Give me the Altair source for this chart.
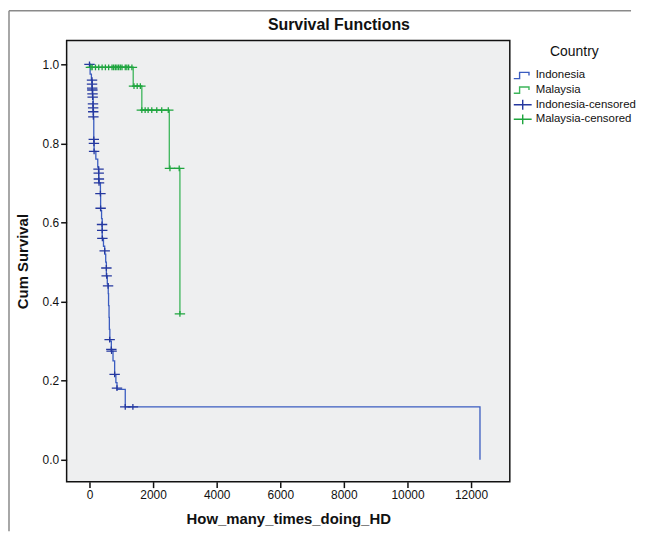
import altair as alt
import pandas as pd

title_text = "Survival Functions"
x_title = "How_many_times_doing_HD"
y_title = "Cum Survival"
legend_title = "Country"
series_names = ["Indonesia", "Malaysia", "Indonesia-censored", "Malaysia-censored"]
series_colors = ["#3a5cc0", "#3cb55a", "#25389f", "#1fa53f"]

x_ticks = [0, 2000, 4000, 6000, 8000, 10000, 12000]
y_ticks = [0.0, 0.2, 0.4, 0.6, 0.8, 1.0]

# Indonesia survival step curve (time, cumulative survival)
indo_t = [0, 20, 60, 85, 100, 115, 125, 135, 145, 200, 260, 290, 344, 350, 380, 400, 440,
          478, 510, 531, 560, 590, 600, 615, 625, 640, 687, 740, 791, 830, 865, 1125, 12281]
indo_s = [1.0, 0.975, 0.96, 0.935, 0.915, 0.885, 0.865, 0.81, 0.78, 0.76, 0.74, 0.70, 0.67,
          0.63, 0.61, 0.56, 0.54, 0.52, 0.50, 0.465, 0.445, 0.42, 0.39, 0.36, 0.33, 0.30,
          0.275, 0.25, 0.215, 0.195, 0.178, 0.134, 0.0]
# Indonesia censored observations
indo_ct = [0, 80, 80, 85, 90, 95, 100, 110, 115, 118, 122, 135, 140, 145, 285, 290, 295, 300,
           344, 350, 395, 400, 405, 478, 531, 540, 584, 634, 687, 695, 791, 865, 1125, 1365]
indo_cs = [1.0, 0.96, 0.95, 0.94, 0.935, 0.925, 0.917, 0.90, 0.89, 0.88, 0.867, 0.81, 0.80,
           0.78, 0.735, 0.725, 0.71, 0.70, 0.673, 0.636, 0.595, 0.58, 0.56, 0.528, 0.485,
           0.465, 0.44, 0.304, 0.279, 0.275, 0.216, 0.181, 0.134, 0.134]

# Malaysia survival step curve
mal_t = [0, 30, 1375, 1646, 2510, 2844]
mal_s = [1.0, 0.992, 0.945, 0.884, 0.737, 0.369]
# Malaysia censored observations
mal_ct = [45, 84, 188, 291, 397, 500, 603, 709, 759, 813, 863, 916, 969, 1022, 1125, 1175,
          1231, 1334, 1400, 1500, 1600, 1646, 1750, 1844, 1959, 2116, 2272, 2478, 2531,
          2822, 2844]
mal_cs = [0.992, 0.992, 0.992, 0.992, 0.992, 0.992, 0.992, 0.992, 0.992, 0.992, 0.992,
          0.992, 0.992, 0.992, 0.992, 0.992, 0.992, 0.992, 0.945, 0.945, 0.945, 0.884,
          0.884, 0.884, 0.884, 0.884, 0.884, 0.884, 0.737, 0.737, 0.369]

lines_df = pd.concat([
    pd.DataFrame({"t": indo_t, "S": indo_s, "series": "Indonesia"}),
    pd.DataFrame({"t": mal_t, "S": mal_s, "series": "Malaysia"}),
])
cens_df = pd.concat([
    pd.DataFrame({"t": indo_ct, "S": indo_cs, "series": "Indonesia-censored"}),
    pd.DataFrame({"t": mal_ct, "S": mal_cs, "series": "Malaysia-censored"}),
])

FONT = "Liberation Sans"
# open step glyph, retraced so that it encloses no area
step_path = "M-1,0.35H-0.35V-0.35H0.7V0V-0.35H-0.35V0.35Z"
plus_path = "M-1,0H1M0,-0.55V0.55"

x_scale = alt.Scale(domain=[-719, 13219], nice=False, zero=False)
y_scale = alt.Scale(domain=[-0.0553, 1.0603], nice=False, zero=False)
color_scale = alt.Scale(domain=series_names, range=series_colors)
shape_scale = alt.Scale(domain=series_names, range=[step_path, step_path, plus_path, plus_path])

legend = alt.Legend(
    title=legend_title, orient="none", legendX=449, legendY=5,
    titleAnchor="middle", titleAlign="center", titleFontSize=14, titleFontWeight="normal",
    titleFont=FONT, titleColor="#111", titlePadding=10,
    labelFont=FONT, labelFontSize=11.5, labelColor="#111", labelOffset=3,
    symbolSize=324, symbolStrokeWidth=1.4, symbolFillColor="transparent",
    clipHeight=12.5, rowPadding=1.7,
)

x_enc = alt.X("t:Q", scale=x_scale, title=x_title,
              axis=alt.Axis(values=x_ticks, format="d", grid=False, domain=False))
y_enc = alt.Y("S:Q", scale=y_scale, title=y_title,
              axis=alt.Axis(values=y_ticks, format=".1f", grid=False, domain=False))

lines = alt.Chart(lines_df).mark_line(interpolate="step-after", strokeWidth=1.3).encode(
    x=x_enc, y=y_enc,
    color=alt.Color("series:N", scale=color_scale, legend=legend),
    shape=alt.Shape("series:N", scale=shape_scale, legend=legend),
    detail="series:N",
)

points = alt.Chart(cens_df).mark_point(filled=False, size=110, strokeWidth=1.3, opacity=1).encode(
    x=x_enc, y=y_enc,
    color=alt.Color("series:N", scale=color_scale, legend=legend),
    shape=alt.Shape("series:N", scale=shape_scale, legend=legend),
)

one = pd.DataFrame({"k": [0]})
frame_v = alt.Chart(one).mark_rule(color="#8a8a8a", strokeWidth=1.5).encode(
    x=alt.value(-58), y=alt.value(-30), y2=alt.value(494))
frame_h = alt.Chart(one).mark_rule(color="#8a8a8a", strokeWidth=1.5).encode(
    x=alt.value(-58), x2=alt.value(568), y=alt.value(-30))
title_mark = alt.Chart(one).mark_text(
    font=FONT, fontSize=16, fontWeight="bold", color="#111", baseline="middle", align="center"
).encode(x=alt.value(274), y=alt.value(-16), text=alt.value(title_text))

chart = alt.layer(lines, points, frame_v, frame_h, title_mark).properties(
    width=446, height=444, padding=0,
).configure_view(
    fill="#eeeff0", stroke="#111", strokeWidth=1.5,
).configure_axis(
    labelFont=FONT, labelFontSize=12, labelColor="#111",
    titleFont=FONT, titleFontSize=15, titleFontWeight="bold", titleColor="#111",
    tickColor="#111", tickSize=6, tickWidth=1.5, labelPadding=2,
).configure_axisY(titlePadding=12).configure_axisX(titlePadding=11)

chart.save("out.html", embed_options={"renderer": "svg", "actions": False})
